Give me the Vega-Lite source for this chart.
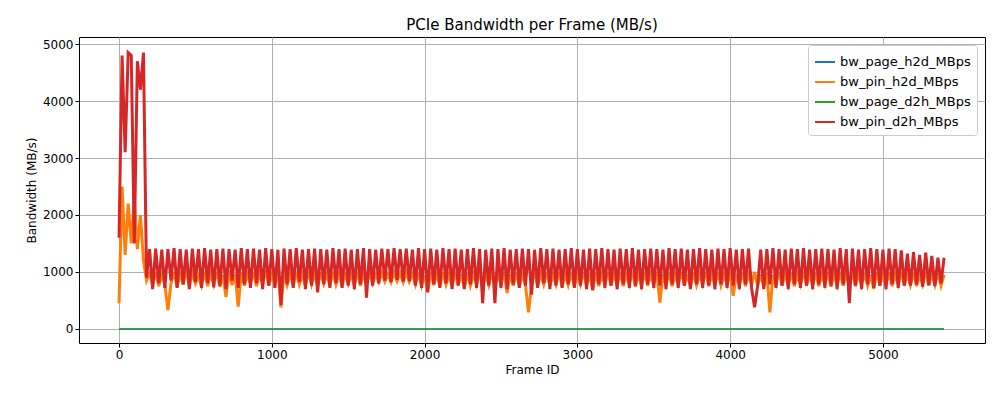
{
"$schema":"https://vega.github.io/schema/vega-lite/v6.json",
"width":1000,"height":400,
"autosize":{"type":"fit","contains":"padding"},
"padding":{"left":25,"right":15,"top":18,"bottom":25},
"background":"white",
"title":{"text":"PCIe Bandwidth per Frame (MB/s)","font":"DejaVu Sans","fontSize":15,"fontWeight":"normal","color":"black"},
"config":{"view":{"stroke":"black","strokeWidth":1},"axis":{"labelFont":"DejaVu Sans","titleFont":"DejaVu Sans","labelFontSize":12,"titleFontSize":12,"titleFontWeight":"normal","labelColor":"black","titleColor":"black","gridColor":"#b0b0b0","gridWidth":1,"tickColor":"black","domain":false,"tickSize":4}},
"encoding":{
"x":{"field":"f","type":"quantitative","title":"Frame ID","scale":{"domain":[-262,5668],"nice":false,"zero":false},"axis":{"values":[0,1000,2000,3000,4000,5000],"format":"d"}},
"y":{"field":"v","type":"quantitative","title":"Bandwidth (MB/s)","scale":{"domain":[-247,5124],"nice":false},"axis":{"values":[0,1000,2000,3000,4000,5000],"format":"d"}},
"color":{"field":"s","type":"nominal","scale":{"domain":["h","o","g","r"],"range":["#1f77b4","#ff7f0e","#2ca02c","#d62728"]},
"legend":{"title":null,"orient":"top-right","labelExpr":"{'h':'bw_page_h2d_MBps','o':'bw_pin_h2d_MBps','g':'bw_page_d2h_MBps','r':'bw_pin_d2h_MBps'}[datum.value]","labelFont":"DejaVu Sans","labelFontSize":13,"symbolType":"stroke","symbolStrokeWidth":2,"symbolSize":400,"fillColor":"white","strokeColor":"#cccccc","padding":6,"cornerRadius":3,"offset":8}}
},
"layer":[
{"data":{"values":[{"f":0,"v":0,"s":"h"},{"f":5400,"v":0,"s":"h"},{"f":0,"v":0,"s":"g"},{"f":5400,"v":0,"s":"g"}]},
"mark":{"type":"line","strokeWidth":1.5}},
{"data":{"values":[
{"f":0,"o":450,"r":1600},{"f":20,"o":2500,"r":4800},{"f":40,"o":1300,"r":3100},{"f":60,"o":2200,"r":4850},{"f":80,"o":1500,"r":4800},{"f":100,"o":2300,"r":1500},{"f":120,"o":1400,"r":4700},{"f":140,"o":2000,"r":4200},{"f":160,"o":1200,"r":4850},{"f":180,"o":850,"r":900},
{"f":200,"o":980,"r":1400},{"f":220,"o":780,"r":700},{"f":240,"o":1000,"r":1410},{"f":260,"o":750,"r":800},{"f":280,"o":950,"r":1390},{"f":300,"o":780,"r":720},{"f":320,"o":330,"r":1400},{"f":340,"o":800,"r":850},{"f":360,"o":1000,"r":1420},{"f":380,"o":740,"r":720},
{"f":400,"o":950,"r":1400},{"f":420,"o":780,"r":780},{"f":440,"o":1050,"r":1390},{"f":460,"o":750,"r":700},{"f":480,"o":980,"r":1410},{"f":500,"o":800,"r":820},{"f":520,"o":920,"r":1400},{"f":540,"o":760,"r":720},{"f":560,"o":1000,"r":1420},{"f":580,"o":750,"r":800},
{"f":600,"o":960,"r":1390},{"f":620,"o":780,"r":730},{"f":640,"o":1000,"r":1400},{"f":660,"o":740,"r":760},{"f":680,"o":950,"r":1410},{"f":700,"o":560,"r":700},{"f":720,"o":1020,"r":1400},{"f":740,"o":770,"r":850},{"f":760,"o":960,"r":1390},{"f":780,"o":390,"r":720},
{"f":800,"o":990,"r":1420},{"f":820,"o":760,"r":780},{"f":840,"o":950,"r":1400},{"f":860,"o":800,"r":720},{"f":880,"o":1000,"r":1410},{"f":900,"o":750,"r":800},{"f":920,"o":970,"r":1390},{"f":940,"o":780,"r":700},{"f":960,"o":1030,"r":1420},{"f":980,"o":760,"r":760},
{"f":1000,"o":950,"r":1400},{"f":1020,"o":790,"r":720},{"f":1040,"o":1000,"r":1390},{"f":1060,"o":380,"r":420},{"f":1080,"o":980,"r":1410},{"f":1100,"o":770,"r":780},{"f":1120,"o":960,"r":1400},{"f":1140,"o":750,"r":720},{"f":1160,"o":1000,"r":1420},{"f":1180,"o":780,"r":820},
{"f":1200,"o":950,"r":1390},{"f":1220,"o":760,"r":700},{"f":1240,"o":1010,"r":1400},{"f":1260,"o":780,"r":760},{"f":1280,"o":960,"r":1410},{"f":1300,"o":740,"r":640},{"f":1320,"o":990,"r":1400},{"f":1340,"o":790,"r":780},{"f":1360,"o":950,"r":1390},{"f":1380,"o":760,"r":720},
{"f":1400,"o":1000,"r":1420},{"f":1420,"o":780,"r":800},{"f":1440,"o":960,"r":1400},{"f":1460,"o":750,"r":720},{"f":1480,"o":980,"r":1410},{"f":1500,"o":790,"r":760},{"f":1520,"o":950,"r":1390},{"f":1540,"o":770,"r":700},{"f":1560,"o":1000,"r":1400},{"f":1580,"o":760,"r":780},
{"f":1600,"o":960,"r":1420},{"f":1620,"o":780,"r":550},{"f":1640,"o":990,"r":1400},{"f":1660,"o":800,"r":760},{"f":1680,"o":950,"r":1390},{"f":1700,"o":820,"r":800},{"f":1720,"o":980,"r":1410},{"f":1740,"o":830,"r":850},{"f":1760,"o":960,"r":1400},{"f":1780,"o":820,"r":820},
{"f":1800,"o":990,"r":1420},{"f":1820,"o":840,"r":860},{"f":1840,"o":970,"r":1400},{"f":1860,"o":820,"r":830},{"f":1880,"o":1000,"r":1410},{"f":1900,"o":830,"r":840},{"f":1920,"o":960,"r":1390},{"f":1940,"o":780,"r":760},{"f":1960,"o":980,"r":1420},{"f":1980,"o":760,"r":720},
{"f":2000,"o":950,"r":1400},{"f":2020,"o":640,"r":650},{"f":2040,"o":1000,"r":1410},{"f":2060,"o":770,"r":780},{"f":2080,"o":960,"r":1390},{"f":2100,"o":750,"r":720},{"f":2120,"o":990,"r":1420},{"f":2140,"o":780,"r":800},{"f":2160,"o":950,"r":1400},{"f":2180,"o":740,"r":700},
{"f":2200,"o":1000,"r":1410},{"f":2220,"o":770,"r":760},{"f":2240,"o":960,"r":1390},{"f":2260,"o":720,"r":700},{"f":2280,"o":980,"r":1400},{"f":2300,"o":760,"r":780},{"f":2320,"o":950,"r":1420},{"f":2340,"o":780,"r":720},{"f":2360,"o":1000,"r":1400},{"f":2380,"o":750,"r":450},
{"f":2400,"o":960,"r":1390},{"f":2420,"o":770,"r":760},{"f":2440,"o":990,"r":1410},{"f":2460,"o":740,"r":450},{"f":2480,"o":950,"r":1400},{"f":2500,"o":780,"r":720},{"f":2520,"o":1000,"r":1420},{"f":2540,"o":630,"r":700},{"f":2560,"o":960,"r":1390},{"f":2580,"o":760,"r":780},
{"f":2600,"o":980,"r":1400},{"f":2620,"o":750,"r":720},{"f":2640,"o":950,"r":1410},{"f":2660,"o":780,"r":760},{"f":2680,"o":290,"r":1400},{"f":2700,"o":770,"r":600},{"f":2720,"o":1000,"r":1390},{"f":2740,"o":750,"r":720},{"f":2760,"o":960,"r":1420},{"f":2780,"o":780,"r":800},
{"f":2800,"o":990,"r":1400},{"f":2820,"o":760,"r":700},{"f":2840,"o":950,"r":1410},{"f":2860,"o":780,"r":760},{"f":2880,"o":1000,"r":1390},{"f":2900,"o":740,"r":720},{"f":2920,"o":960,"r":1400},{"f":2940,"o":770,"r":780},{"f":2960,"o":980,"r":1420},{"f":2980,"o":750,"r":720},
{"f":3000,"o":950,"r":1400},{"f":3020,"o":780,"r":760},{"f":3040,"o":1000,"r":1390},{"f":3060,"o":760,"r":700},{"f":3080,"o":960,"r":1410},{"f":3100,"o":680,"r":680},{"f":3120,"o":990,"r":1400},{"f":3140,"o":750,"r":780},{"f":3160,"o":950,"r":1420},{"f":3180,"o":780,"r":720},
{"f":3200,"o":1000,"r":1400},{"f":3220,"o":760,"r":760},{"f":3240,"o":960,"r":1390},{"f":3260,"o":770,"r":700},{"f":3280,"o":980,"r":1410},{"f":3300,"o":750,"r":780},{"f":3320,"o":950,"r":1400},{"f":3340,"o":780,"r":720},{"f":3360,"o":1000,"r":1420},{"f":3380,"o":740,"r":760},
{"f":3400,"o":960,"r":1390},{"f":3420,"o":770,"r":700},{"f":3440,"o":990,"r":1400},{"f":3460,"o":760,"r":780},{"f":3480,"o":950,"r":1410},{"f":3500,"o":780,"r":720},{"f":3520,"o":1000,"r":1400},{"f":3540,"o":460,"r":760},{"f":3560,"o":960,"r":1390},{"f":3580,"o":770,"r":700},
{"f":3600,"o":980,"r":1420},{"f":3620,"o":750,"r":780},{"f":3640,"o":950,"r":1400},{"f":3660,"o":780,"r":720},{"f":3680,"o":1000,"r":1410},{"f":3700,"o":760,"r":760},{"f":3720,"o":960,"r":1390},{"f":3740,"o":740,"r":700},{"f":3760,"o":990,"r":1400},{"f":3780,"o":770,"r":780},
{"f":3800,"o":950,"r":1420},{"f":3820,"o":780,"r":720},{"f":3840,"o":1000,"r":1400},{"f":3860,"o":750,"r":760},{"f":3880,"o":960,"r":1390},{"f":3900,"o":770,"r":700},{"f":3920,"o":980,"r":1410},{"f":3940,"o":760,"r":780},{"f":3960,"o":950,"r":1400},{"f":3980,"o":780,"r":720},
{"f":4000,"o":1000,"r":1420},{"f":4020,"o":580,"r":760},{"f":4040,"o":960,"r":1390},{"f":4060,"o":770,"r":700},{"f":4080,"o":990,"r":1400},{"f":4100,"o":750,"r":780},{"f":4120,"o":950,"r":1410},{"f":4140,"o":780,"r":720},{"f":4160,"o":1000,"r":380},{"f":4180,"o":760,"r":760},
{"f":4200,"o":960,"r":1390},{"f":4220,"o":740,"r":700},{"f":4240,"o":980,"r":1400},{"f":4260,"o":290,"r":780},{"f":4280,"o":950,"r":1420},{"f":4300,"o":780,"r":720},{"f":4320,"o":1000,"r":1400},{"f":4340,"o":760,"r":760},{"f":4360,"o":960,"r":1390},{"f":4380,"o":770,"r":700},
{"f":4400,"o":990,"r":1410},{"f":4420,"o":750,"r":780},{"f":4440,"o":950,"r":1400},{"f":4460,"o":780,"r":720},{"f":4480,"o":1000,"r":1420},{"f":4500,"o":760,"r":760},{"f":4520,"o":960,"r":1390},{"f":4540,"o":770,"r":700},{"f":4560,"o":980,"r":1400},{"f":4580,"o":750,"r":780},
{"f":4600,"o":950,"r":1410},{"f":4620,"o":780,"r":720},{"f":4640,"o":1000,"r":1400},{"f":4660,"o":740,"r":760},{"f":4680,"o":960,"r":1390},{"f":4700,"o":770,"r":700},{"f":4720,"o":990,"r":1420},{"f":4740,"o":760,"r":780},{"f":4760,"o":950,"r":1400},{"f":4780,"o":780,"r":450},
{"f":4800,"o":1000,"r":1410},{"f":4820,"o":750,"r":760},{"f":4840,"o":960,"r":1390},{"f":4860,"o":770,"r":700},{"f":4880,"o":980,"r":1400},{"f":4900,"o":760,"r":780},{"f":4920,"o":950,"r":1420},{"f":4940,"o":700,"r":720},{"f":4960,"o":1000,"r":1400},{"f":4980,"o":760,"r":760},
{"f":5000,"o":960,"r":1390},{"f":5020,"o":770,"r":700},{"f":5040,"o":990,"r":1410},{"f":5060,"o":750,"r":780},{"f":5080,"o":950,"r":1400},{"f":5100,"o":780,"r":720},{"f":5120,"o":1000,"r":1380},{"f":5140,"o":760,"r":760},{"f":5160,"o":960,"r":1320},{"f":5180,"o":770,"r":760},
{"f":5200,"o":980,"r":1350},{"f":5220,"o":750,"r":780},{"f":5240,"o":950,"r":1300},{"f":5260,"o":780,"r":740},{"f":5280,"o":1000,"r":1340},{"f":5300,"o":760,"r":770},{"f":5320,"o":960,"r":1280},{"f":5340,"o":770,"r":750},{"f":5360,"o":980,"r":1250},{"f":5380,"o":760,"r":800},{"f":5400,"o":950,"r":1250}
]},
"transform":[{"fold":["o","r"],"as":["s","v"]}],
"mark":{"type":"line","strokeWidth":3}}
]
}
